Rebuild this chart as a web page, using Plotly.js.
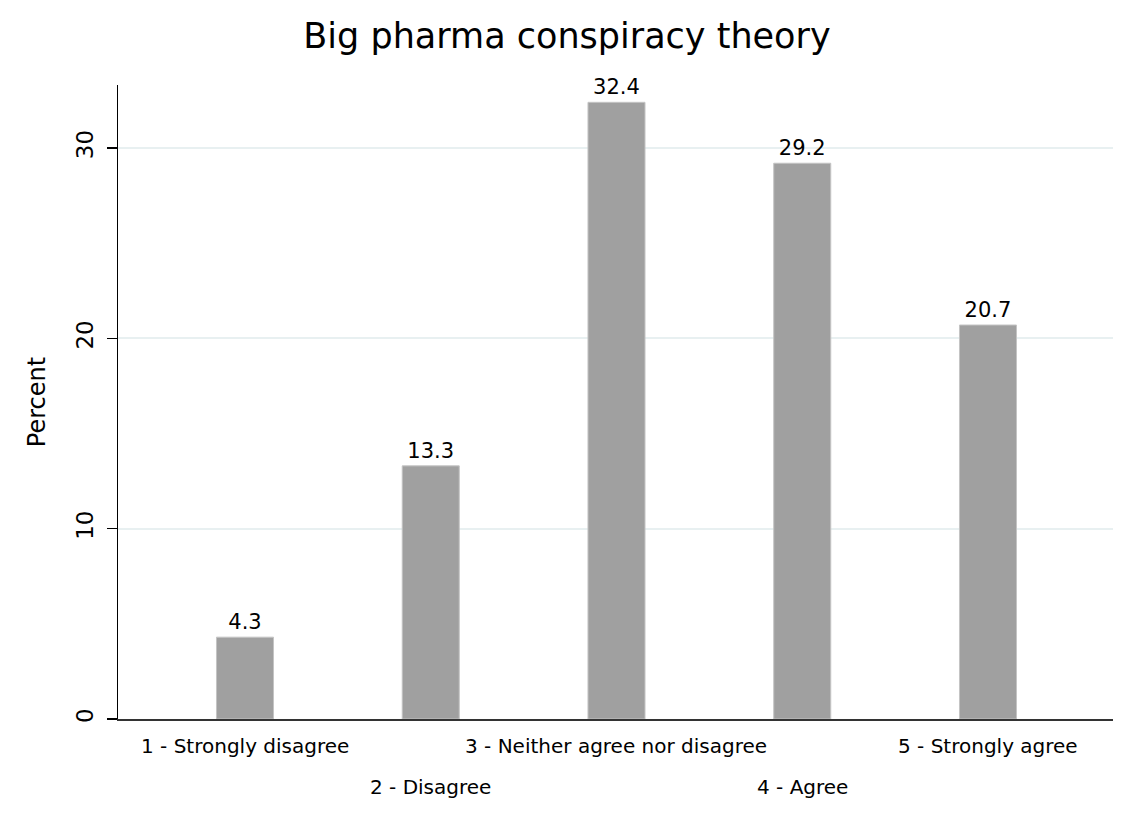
<!DOCTYPE html>
<html>
<head>
<meta charset="utf-8">
<script src="https://cdn.plot.ly/plotly-3.0.1.min.js"></script>
<style>html,body{margin:0;padding:0;background:#fff;}#chart{width:1134px;height:822px;}</style>
</head>
<body>
<div id="chart"></div>
<script>
const categories = ["1 - Strongly disagree", "2 - Disagree", "3 - Neither agree nor disagree", "4 - Agree", "5 - Strongly agree"];
const positions = [1, 2, 3, 4, 5];
const percents = [4.3, 13.3, 32.4, 29.2, 20.7];
const labelRow = [0, 1, 0, 1, 0];
const yTicks = [0, 10, 20, 30];

const FONT = "DejaVu Sans, Verdana, sans-serif";

const trace = {
  type: "bar",
  x: positions,
  y: percents,
  width: 0.307,
  marker: {color: "#a0a0a0", line: {color: "#c4c4c4", width: 1}},
  text: percents.map(v => v.toFixed(1)),
  textposition: "outside",
  cliponaxis: false,
  textfont: {family: FONT, size: 21, color: "#000"},
  hoverinfo: "x+y"
};

const annotations = categories.map((c, i) => ({
  text: c,
  x: positions[i],
  xref: "x",
  y: 0,
  yref: "paper",
  yanchor: "middle",
  xanchor: "center",
  yshift: labelRow[i] === 0 ? -27 : -68,
  showarrow: false,
  font: {family: FONT, size: 20, color: "#000"}
}));

const layout = {
  width: 1134,
  height: 822,
  paper_bgcolor: "#fff",
  plot_bgcolor: "#fff",
  margin: {l: 118, r: 21, t: 85, b: 103},
  title: {text: "Big pharma conspiracy theory", font: {family: FONT, size: 35, color: "#000"}, x: 0.5, xanchor: "center", y: 0.957, yanchor: "middle"},
  showlegend: false,
  bargap: 0,
  xaxis: {
    range: [0.3163, 5.673],
    showgrid: false,
    zeroline: false,
    showline: true,
    linecolor: "#333",
    linewidth: 1.5,
    ticks: "",
    showticklabels: false
  },
  yaxis: {
    range: [0, 33.31],
    tickvals: yTicks,
    ticktext: yTicks.map(String),
    tickangle: -90,
    ticks: "outside",
    ticklen: 10,
    tickwidth: 1.5,
    tickcolor: "#000",
    ticklabelstandoff: 4,
    showline: true,
    linecolor: "#000",
    linewidth: 1.5,
    zeroline: false,
    showgrid: true,
    gridcolor: "#e8f0f1",
    gridwidth: 2,
    tickfont: {family: FONT, size: 23, color: "#000"},
    title: {text: "Percent", font: {family: FONT, size: 24, color: "#000"}, standoff: 20}
  },
  annotations: annotations
};

Plotly.newPlot("chart", [trace], layout, {displayModeBar: false, staticPlot: true});
</script>
</body>
</html>
